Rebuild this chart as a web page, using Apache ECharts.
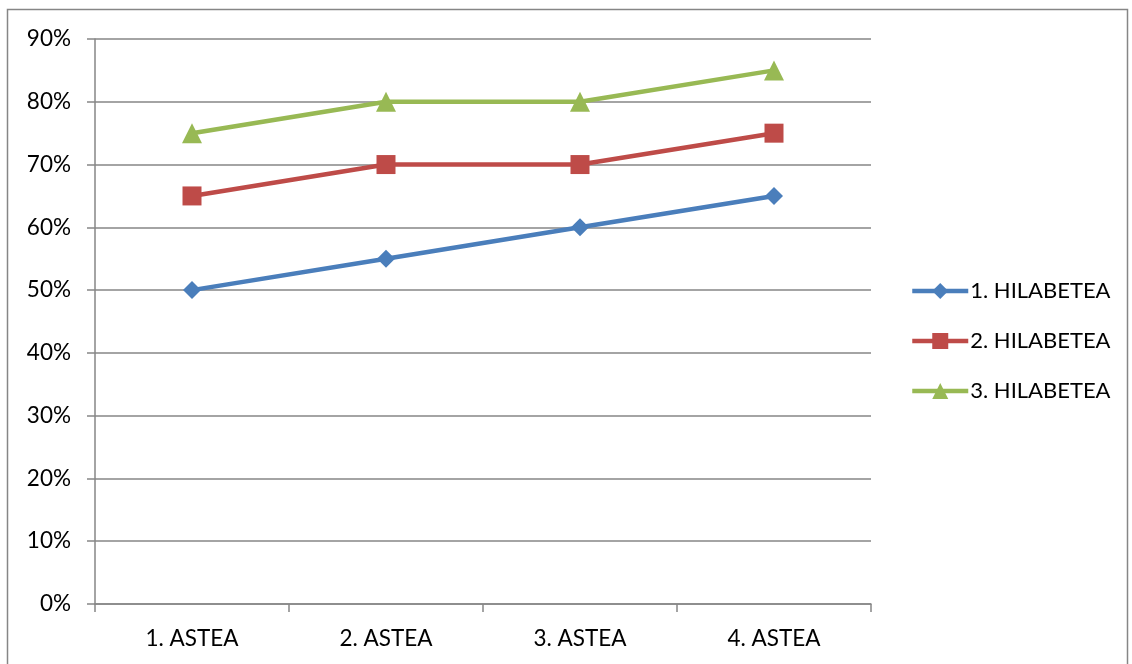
<!DOCTYPE html>
<html>
<head>
<meta charset="utf-8">
<script src="https://cdn.jsdelivr.net/npm/echarts@6/dist/echarts.min.js"></script>
<style>
  html, body { margin: 0; padding: 0; background: #fff; }
  #chart { width: 1132px; height: 664px; }
</style>
</head>
<body>
<div id="chart"></div>
<script>
const categories = ['1. ASTEA', '2. ASTEA', '3. ASTEA', '4. ASTEA'];
const seriesNames = ['1. HILABETEA', '2. HILABETEA', '3. HILABETEA'];
const hilabetea1 = [0.50, 0.55, 0.60, 0.65];
const hilabetea2 = [0.65, 0.70, 0.70, 0.75];
const hilabetea3 = [0.75, 0.80, 0.80, 0.85];

const font = "Lato, 'Open Sans', sans-serif";
const chart = echarts.init(document.getElementById('chart'));

function line(name, data, color, symbol, size) {
  return {
    name, type: 'line', data,
    symbol, symbolSize: size,
    lineStyle: { color, width: 4.5 },
    itemStyle: { color },
    animation: false
  };
}

chart.setOption({
  animation: false,
  graphic: [{
    type: 'rect',
    shape: { x: 7.5, y: 9.5, width: 1120, height: 680 },
    style: { fill: 'none', stroke: '#868686', lineWidth: 1.5 }
  }],
  legend: {
    data: seriesNames,
    orient: 'vertical',
    left: 905,
    top: 275,
    itemWidth: 56,
    itemHeight: 20,
    itemGap: 28,
    lineStyle: { width: 4.5 },
    textStyle: { fontSize: 22, color: '#000', fontFamily: font, padding: [0, 0, 0, -3] }
  },
  grid: { left: 95, right: 261, top: 39, bottom: 60 },
  xAxis: {
    type: 'category',
    data: categories,
    boundaryGap: true,
    axisLine: { lineStyle: { color: '#868686', width: 1.5 } },
    axisTick: { show: true, length: 8, lineStyle: { color: '#868686', width: 1.5 } },
    axisLabel: { fontSize: 22.5, color: '#000', fontFamily: font, margin: 23 },
    splitLine: { show: false }
  },
  yAxis: {
    type: 'value',
    min: 0, max: 0.9, interval: 0.1,
    axisLine: { show: true, lineStyle: { color: '#868686', width: 1.5 } },
    axisTick: { show: true, length: 8, lineStyle: { color: '#868686', width: 1.5 } },
    axisLabel: {
      fontSize: 22.5, color: '#000', fontFamily: font, margin: 24,
      formatter: v => Math.round(v * 100) + '%'
    },
    splitLine: { lineStyle: { color: '#868686', width: 1.5 } }
  },
  series: [
    line(seriesNames[0], hilabetea1, '#4A7EBB', 'diamond', 18),
    line(seriesNames[1], hilabetea2, '#BE4B48', 'rect', 19),
    line(seriesNames[2], hilabetea3, '#98B954', 'triangle', 20)
  ]
});
</script>
</body>
</html>
